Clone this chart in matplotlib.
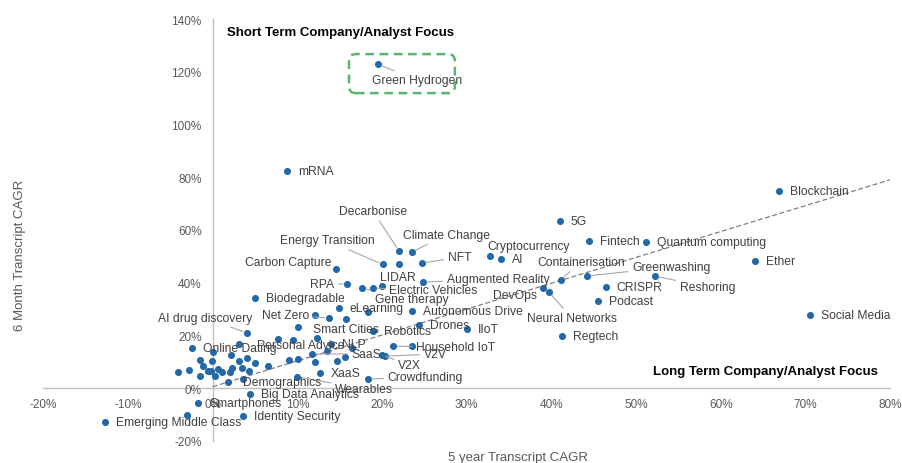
import matplotlib

matplotlib.use("Agg")
import matplotlib.pyplot as plt
from matplotlib.patches import FancyBboxPatch
from matplotlib.ticker import FuncFormatter, MultipleLocator

plt.rcParams["font.family"] = ["Liberation Sans", "DejaVu Sans"]

# labelled topics: 5 year transcript CAGR (%) and 6 month transcript CAGR (%)
topics = [
    "Green Hydrogen", "mRNA", "Blockchain", "5G", "Fintech", "Quantum computing",
    "Ether", "Social Media", "Cryptocurrency", "AI", "Decarbonise", "Climate Change",
    "Energy Transition", "NFT", "Carbon Capture", "LIDAR", "Electric Vehicles",
    "Gene therapy", "Augmented Reality", "RPA", "Containerisation", "Greenwashing",
    "Reshoring", "CRISPR", "Podcast", "DevOps", "Neural Networks", "Biodegradable",
    "eLearning", "Net Zero", "Autonomous Drive", "Smart Cities", "AI drug discovery",
    "Robotics", "Drones", "IIoT", "Regtech", "NLP", "Personal Advice", "Online Dating",
    "Household IoT", "SaaS", "V2V", "V2X", "XaaS", "Crowdfunding", "Wearables",
    "Demographics", "Big Data Analytics", "Smartphones", "Identity Security",
    "Emerging Middle Class",
]
cagr_5y = [
    19.5, 8.8, 66.9, 41.0, 44.5, 51.2,
    64.0, 70.6, 32.7, 34.0, 22.0, 23.5,
    20.1, 24.7, 14.6, 20.0, 18.9,
    17.6, 24.8, 15.9, 41.1, 44.2,
    52.2, 46.4, 45.5, 39.0, 39.7, 5.0,
    14.9, 13.7, 23.5, 10.1, 4.0,
    18.9, 24.4, 30.0, 41.2, 14.0, 3.1, -2.4,
    21.3, 11.7, 20.3, 20.0, 12.7, 18.3, 10.0,
    1.8, 4.4, -1.7, 3.6,
    -12.7,
]
cagr_6m = [
    122.9, 82.3, 74.7, 63.4, 55.8, 55.4,
    48.2, 27.7, 50.1, 49.0, 52.0, 51.6,
    46.9, 47.4, 45.1, 38.7, 37.9,
    37.9, 40.2, 39.5, 41.0, 42.5,
    42.5, 38.3, 33.0, 38.0, 36.4, 34.1,
    30.3, 26.6, 29.2, 23.1, 20.9,
    21.6, 23.9, 22.4, 19.7, 16.7, 16.7, 15.2,
    15.9, 12.9, 12.1, 12.5, 5.7, 3.4, 4.2,
    2.3, -2.3, -5.7, -10.6,
    -12.9,
]

# topics without a data label
other_5y = [
    22.0, 12.1, 15.7, 18.3, 12.3, 7.7, 9.5, 16.4, 23.5, 13.5, 15.6, 14.7,
    9.0, 10.1, 12.1, 6.5, 0.0, 2.2, 4.0, 3.1, 5.0, -1.5, -0.1, -4.1, -2.8,
    -1.1, -0.2, -0.6, 0.6, 1.1, 2.3, 2.0, 3.5, 4.3, -1.5, 0.3, 3.6, -3.0,
]
other_6m = [
    47.0, 27.7, 26.2, 28.8, 19.0, 18.6, 18.2, 15.2, 15.9, 14.0, 11.8, 10.2,
    10.6, 11.0, 9.9, 8.3, 13.7, 12.5, 11.4, 10.2, 9.5, 10.6, 10.2, 6.1, 6.8,
    8.3, 6.4, 6.6, 7.2, 6.1, 7.6, 6.1, 7.6, 6.4, 4.6, 4.6, 3.4, -10.2,
]

trend_x = [0, 80]
trend_y = [0.5, 79]

# label placement in pixels from the dot: dx, dy, horizontal alignment, leader line
label_pos = {
    "Green Hydrogen": (39, -16, "center", True),
    "Cryptocurrency": (39, 10, "center", False),
    "Decarbonise": (-26, 40, "center", True),
    "Climate Change": (35, 17, "center", True),
    "Energy Transition": (-56, 24, "center", True),
    "NFT": (26, 6, "left", True),
    "Carbon Capture": (-48, 7, "center", False),
    "LIDAR": (16, 9, "center", False),
    "Electric Vehicles": (16, -2, "left", True),
    "Gene therapy": (13, -11, "left", True),
    "Augmented Reality": (24, 3, "left", True),
    "RPA": (-13, 0, "right", True),
    "Containerisation": (20, 18, "center", True),
    "Greenwashing": (45, 9, "left", True),
    "Reshoring": (25, -11, "left", True),
    "DevOps": (-6, -7, "right", False),
    "Neural Networks": (23, -26, "center", True),
    "Net Zero": (-19, 3, "right", True),
    "Smart Cities": (15, -2, "left", False),
    "AI drug discovery": (-41, 15, "center", True),
    "Personal Advice": (18, -1, "left", False),
    "Household IoT": (23, -1, "left", True),
    "SaaS": (40, 0, "left", True),
    "V2V": (39, 2, "left", True),
    "V2X": (16, -10, "left", True),
    "Crowdfunding": (20, 2, "left", True),
    "Wearables": (38, -12, "left", True),
    "Demographics": (15, 0, "left", False),
}

dot_color = "#2468A8"
text_color = "#404040"
axis_color = "#BFBFBF"

fig = plt.figure(figsize=(9.03, 4.64), dpi=100)
ax = fig.add_axes([0.048, 0.048, 0.9377, 0.9088])

ax.plot(trend_x, trend_y, color="#7F7F7F", lw=0.9, ls=(0, (4, 2)), zorder=1)

ax.scatter(other_5y, other_6m, s=26, color=dot_color, linewidths=0, zorder=3)
ax.scatter(cagr_5y, cagr_6m, s=26, color=dot_color, linewidths=0, zorder=3)

for name, xv, yv in zip(topics, cagr_5y, cagr_6m):
    dx, dy, ha, leader = label_pos.get(name, (11, 0, "left", False))
    props = None
    if leader:
        props = dict(arrowstyle="-", color="#A6A6A6", lw=0.8, shrinkA=1, shrinkB=3)
    ax.annotate(name, (xv, yv), xytext=(dx, dy), textcoords="offset pixels",
                ha=ha, va="center", fontsize=8.7, color=text_color,
                arrowprops=props, zorder=4)

# highlight box round Green Hydrogen
box = FancyBboxPatch((16.1, 111.9), 12.5, 14.8,
                     boxstyle="round,pad=0,rounding_size=0.8",
                     mutation_aspect=3.2, fill=False, ec="#5BB56E",
                     lw=1.8, ls=(0, (3.5, 2.2)), zorder=2)
ax.add_patch(box)

ax.text(1.7, 135.2, "Short Term Company/Analyst Focus", fontsize=9.5,
        fontweight="bold", color="black", ha="left", va="center")
ax.text(78.5, 6.4, "Long Term Company/Analyst Focus", fontsize=9.5,
        fontweight="bold", color="black", ha="right", va="center")

ax.set_xlim(-20, 80)
ax.set_ylim(-20, 140)
ax.xaxis.set_major_locator(MultipleLocator(10))
ax.yaxis.set_major_locator(MultipleLocator(20))
pct = FuncFormatter(lambda v, _: f"{v:.0f}%")
ax.xaxis.set_major_formatter(pct)
ax.yaxis.set_major_formatter(pct)

ax.spines["left"].set_position(("data", 0))
ax.spines["bottom"].set_position(("data", 0))
ax.spines["top"].set_visible(False)
ax.spines["right"].set_visible(False)
for side in ("left", "bottom"):
    ax.spines[side].set_color(axis_color)
    ax.spines[side].set_linewidth(1.0)
    ax.spines[side].set_zorder(0)
ax.tick_params(axis="x", length=0, pad=7, labelsize=8.5, labelcolor="#595959")
ax.tick_params(axis="y", length=0, pad=8, labelsize=8.5, labelcolor="#595959")
ax.patch.set_alpha(0)

fig.text(0.574, 1 - 458 / 464, "5 year Transcript CAGR", fontsize=9.5,
         color="#595959", ha="center", va="center")
fig.text(0.022, 1 - 255 / 464, "6 Month Transcript CAGR", fontsize=9.5,
         color="#595959", ha="center", va="center", rotation=90)

fig.savefig("out.png", dpi=100)
plt.close(fig)
